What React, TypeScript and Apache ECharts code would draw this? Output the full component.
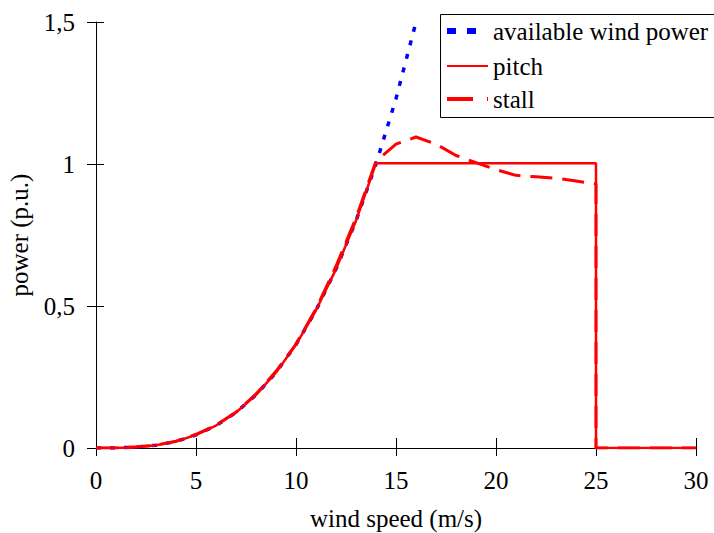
import React, { useEffect, useRef } from "react";
import * as echarts from "echarts";

const windSpeed = [0, 1, 2, 3, 4, 5, 6, 7, 8, 9, 10, 11, 12, 13, 14, 15, 16];
const availablePower = [0, 0.0004, 0.003, 0.01, 0.023, 0.046, 0.079, 0.125, 0.187, 0.266, 0.364, 0.485, 0.63, 0.8, 1.0, 1.23, 1.5];

const pitchSpeed = [0, 1, 2, 3, 4, 5, 6, 7, 8, 9, 10, 11, 12, 13, 14, 25, 25, 30];
const pitchPower = [0, 0.0004, 0.003, 0.01, 0.023, 0.046, 0.079, 0.125, 0.187, 0.266, 0.364, 0.485, 0.63, 0.8, 1.003, 1.003, 0, 0];

const stallSpeed = [0, 1, 2, 3, 4, 5, 6, 7, 8, 9, 10, 11, 12, 13, 14, 15, 16, 17, 18, 19, 20, 21, 22, 23, 24, 25, 25, 30];
const stallPower = [0, 0.0004, 0.004, 0.01, 0.024, 0.048, 0.08, 0.126, 0.19, 0.27, 0.366, 0.49, 0.64, 0.81, 1.01, 1.07, 1.095, 1.07, 1.03, 1.005, 0.98, 0.96, 0.955, 0.95, 0.94, 0.93, 0, 0];

const seriesNames = ["available wind power", "pitch", "stall"];

const xTicks = { min: 0, max: 30, interval: 5 };
const yTicks = { min: 0, max: 1.5, interval: 0.5 };

const font = "Liberation Serif";
const fs = 25;

function zip(xs: number[], ys: number[]) {
  return xs.map((x, i) => [x, ys[i]]);
}

export default function App() {
  const ref = useRef<HTMLDivElement>(null);
  useEffect(() => {
    const chart = echarts.init(ref.current!, null, { renderer: "svg" });
    const axisLine = { show: true, lineStyle: { color: "#000", width: 1 } };
    const legendY = [31, 66, 99];
    const legendStyles = [
      { stroke: "#0000ff", lineWidth: 6, lineDash: [9, 11], x2: 476 },
      { stroke: "#ff0000", lineWidth: 2, lineDash: null, x2: 488 },
      { stroke: "#ff0000", lineWidth: 4, lineDash: [26, 14], x2: 488 },
    ];
    const legendGraphics: any[] = [
      {
        type: "rect",
        shape: { x: 440.5, y: 14.5, width: 280, height: 103 },
        style: { fill: "#fff", stroke: "#000", lineWidth: 1 },
        z: 10,
      },
    ];
    seriesNames.forEach((n, i) => {
      const s = legendStyles[i];
      legendGraphics.push({
        type: "line",
        shape: { x1: 447, y1: legendY[i], x2: s.x2, y2: legendY[i] },
        style: { stroke: s.stroke, lineWidth: s.lineWidth, lineDash: s.lineDash },
        z: 11,
      });
      legendGraphics.push({
        type: "text",
        x: 493,
        y: legendY[i],
        style: { text: n, fontFamily: font, fontSize: fs, fill: "#000", verticalAlign: "middle" },
        z: 11,
      });
    });
    chart.setOption({
      animation: false,
      backgroundColor: "#fff",
      textStyle: { fontFamily: font },
      grid: { left: 96, right: 18, top: 22, bottom: 85, outerBoundsMode: "none", containLabel: false },
      graphic: legendGraphics,
      xAxis: [
        {
          type: "value",
          ...xTicks,
          axisLine,
          axisTick: { show: true, inside: true, length: 10, lineStyle: { color: "#000" } },
          splitLine: { show: false },
          axisLabel: { fontFamily: font, fontSize: fs, color: "#000", margin: 20 },
          name: "wind speed (m/s)",
          nameLocation: "middle",
          nameGap: 58,
          nameTextStyle: { fontFamily: font, fontSize: fs, color: "#000" },
        },
        {
          type: "value",
          ...xTicks,
          position: "bottom",
          axisLine: { show: false },
          axisTick: { show: true, inside: false, length: 8, lineStyle: { color: "#000" } },
          splitLine: { show: false },
          axisLabel: { show: false },
        },
      ],
      yAxis: [
        {
          type: "value",
          ...yTicks,
          axisLine,
          axisTick: { show: true, inside: true, length: 8, lineStyle: { color: "#000" } },
          splitLine: { show: false },
          axisLabel: {
            fontFamily: font,
            fontSize: fs,
            color: "#000",
            margin: 21,
            formatter: (v: number) => String(v).replace(".", ","),
          },
          name: "power (p.u.)",
          nameLocation: "middle",
          nameGap: 64,
          nameTextStyle: { fontFamily: font, fontSize: fs, color: "#000" },
        },
        {
          type: "value",
          ...yTicks,
          position: "left",
          axisLine: { show: false },
          axisTick: { show: true, inside: false, length: 9, lineStyle: { color: "#000" } },
          splitLine: { show: false },
          axisLabel: { show: false },
        },
      ],
      series: [
        {
          name: seriesNames[0],
          type: "line",
          data: zip(windSpeed, availablePower),
          symbol: "none",
          color: "#0000ff",
          lineStyle: { color: "#0000ff", width: 3.5, type: [5, 9] },
          z: 2,
        },
        {
          name: seriesNames[1],
          type: "line",
          data: zip(pitchSpeed, pitchPower),
          symbol: "none",
          color: "#ff0000",
          lineStyle: { color: "#ff0000", width: 2.5, type: "solid" },
          z: 3,
        },
        {
          name: seriesNames[2],
          type: "line",
          data: zip(stallSpeed, stallPower),
          symbol: "none",
          color: "#ff0000",
          lineStyle: { color: "#ff0000", width: 3, type: [22, 10] },
          z: 4,
        },
      ],
    });
    return () => chart.dispose();
  }, []);
  return (
    <div
      ref={ref}
      style={{ position: "fixed", left: 0, top: 0, width: 714, height: 533 }}
    />
  );
}
